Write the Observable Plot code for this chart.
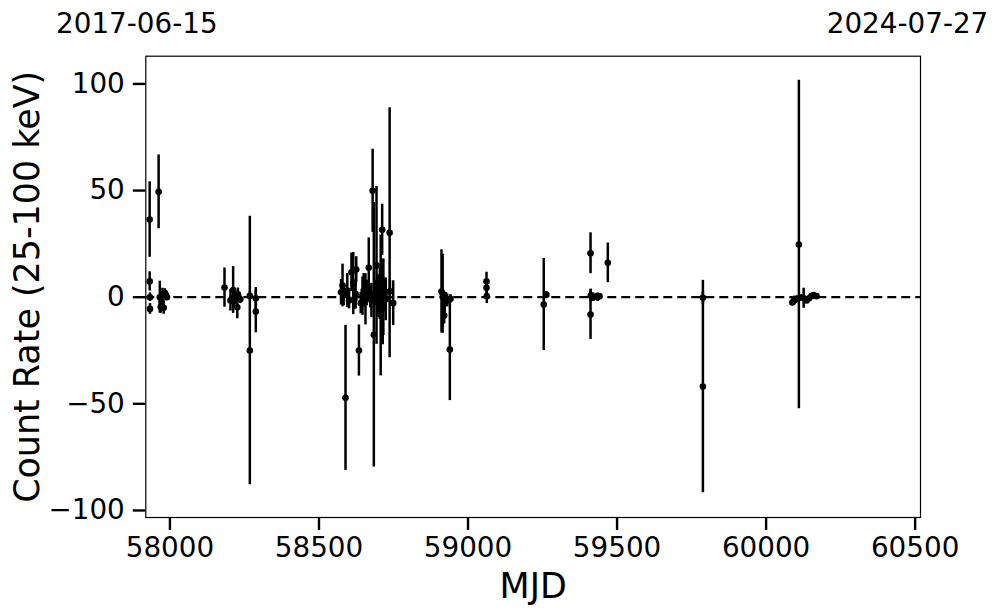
<!DOCTYPE html>
<html>
<head>
<meta charset="utf-8">
<script src="https://cdn.jsdelivr.net/npm/d3@7"></script>
<script src="https://cdn.jsdelivr.net/npm/@observablehq/plot@0.6"></script>
<style>
  html, body { margin: 0; padding: 0; background: #fff; }
  #chart { width: 997px; height: 613px; }
</style>
</head>
<body>
<div id="chart"></div>
<script>
// Observation epochs (MJD), count rates (25-100 keV) and 1-sigma errors
const mjd = [
  57932, 57932, 57933, 57933, 57962, 57966, 57969, 57972, 57975, 57979, 57983, 57986, 57990,
  58183, 58203, 58212, 58213, 58217, 58226, 58228, 58236, 58268, 58268, 58288, 58288,
  58574, 58579, 58583, 58589, 58595, 58601, 58609, 58615, 58619, 58623, 58625, 58634, 58640, 58646,
  58650, 58656, 58660, 58667, 58672, 58676, 58680, 58684, 58688, 58693, 58699, 58704, 58707, 58712,
  58714, 58716, 58720, 58724, 58737, 58738, 58749,
  58911, 58915, 58917, 58920, 58922, 58926, 58930, 58939, 58941,
  59062, 59062, 59063,
  59254, 59263,
  59411, 59411, 59412, 59420, 59431, 59435, 59441, 59469,
  59788, 59788,
  60088, 60094, 60100, 60108, 60110, 60119, 60126, 60136, 60144, 60152, 60159, 60169
];
const rate = [
  36.4, 7.4, 0.0, -5.5, 49.4, 0.0, -4.5, -2.0, 1.2, -5.0, 2.0, 1.0, 0.0,
  4.5, -1.5, 3.4, -2.0, 0.5, -4.7, 1.3, -1.0, -25.0, 0.6, -0.5, -6.7,
  2.3, 5.5, 1.0, -47.2, 3.1, -1.5, 11.7, 6.4, -0.8, 1.5, 13.0, -25.0, -2.8, 0.5,
  3.1, -1.0, 2.0, 13.8, 0.0, -1.5, 49.9, -17.6, 2.0, 14.9, 0.5, 1.6, -3.9, 31.6,
  -2.3, 0.0, 1.0, -1.0, 30.2, 2.8, -2.8,
  2.7, 1.6, 0.0, -8.6, -3.0, -0.8, -1.5, -24.5, -0.8,
  7.4, 4.4, 0.5,
  -3.4, 1.1,
  20.6, -8.1, 0.8, 0.0, 0.3, 0.0, 0.5, 16.1,
  -41.9, -0.3,
  -2.5, -1.5, -1.0, -0.5, 24.7, 0.0, -0.5, -1.5, -0.5, 0.5, 1.0, 0.5
];
const err = [
  17.7, 4.5, 2.0, 2.5, 17.3, 7.5, 3.0, 3.0, 3.0, 3.0, 2.0, 2.0, 1.5,
  9.2, 5.0, 11.0, 3.0, 3.0, 5.4, 3.0, 2.0, 63.0, 2.0, 5.0, 10.0,
  6.0, 10.0, 5.0, 34.0, 8.0, 4.0, 9.0, 14.6, 5.0, 7.0, 6.0, 12.0, 5.0, 9.0,
  8.0, 12.0, 6.0, 14.0, 5.0, 8.0, 19.5, 62.0, 6.0, 37.0, 10.0, 12.0, 33.0, 12.0,
  20.0, 18.0, 8.0, 10.0, 58.6, 5.0, 10.5,
  19.5, 18.5, 3.0, 4.0, 5.0, 3.0, 3.0, 24.0, 2.0,
  4.3, 3.0, 3.5,
  21.6, 1.5,
  9.6, 11.7, 3.0, 2.0, 1.5, 2.0, 1.0, 9.3,
  49.8, 3.0,
  1.5, 2.0, 1.5, 1.0, 77.0, 1.0, 4.7, 1.0, 1.0, 1.0, 1.0, 1.0
];

const xTicks = [58000, 58500, 59000, 59500, 60000, 60500];
const yTicks = [-100, -50, 0, 50, 100];
const xDomain = [57919, 60518];   // 2017-06-15 .. 2024-07-27
const yDomain = [-103.3, 113.0];
const dateLabels = ["2017-06-15", "2024-07-27"];
const dateMjd = [57919, 60518];

const data = mjd.map((m, i) => ({mjd: m, rate: rate[i], lo: rate[i] - err[i], hi: rate[i] + err[i]}));
const tops = dateLabels.map((t, i) => ({mjd: dateMjd[i], label: t}));

const font = "DejaVu Sans, Liberation Sans, sans-serif";

const chart = Plot.plot({
  width: 997,
  height: 613,
  marginLeft: 145.3,
  marginRight: 77,
  marginTop: 55.7,
  marginBottom: 96,
  style: {fontFamily: font, background: "#fff", color: "#000", overflow: "visible"},
  x: {domain: xDomain, label: null},
  y: {domain: yDomain, label: null},
  marks: [
    Plot.ruleY([0], {stroke: "#000", strokeWidth: 2.3, strokeDasharray: "9,5"}),
    Plot.ruleX(data, {x: "mjd", y1: "lo", y2: "hi", stroke: "#000", strokeWidth: 2.5}),
    Plot.dot(data, {x: "mjd", y: "rate", r: 3.3, fill: "#000", stroke: "none"}),
    Plot.frame({stroke: "#000", strokeWidth: 1.2}),
    Plot.axisX({ticks: xTicks, tickFormat: "d", tickSize: 13, tickPadding: 7, fontSize: 27.8, strokeWidth: 2.4, label: null}),
    Plot.axisY({ticks: yTicks, tickFormat: (d) => d3.format("d")(d).replace("-", "\u2212"), tickSize: 12.5, tickPadding: 8.5, fontSize: 27.8, strokeWidth: 2.4, label: null}),
    Plot.text(["Count Rate (25-100 keV)"], {frameAnchor: "left", rotate: -90, dx: -107, lineAnchor: "bottom", textAnchor: "middle", fontSize: 34.9, fill: "#000"}),
    Plot.text(["MJD"], {frameAnchor: "bottom", dy: 80, lineAnchor: "bottom", textAnchor: "middle", fontSize: 34.9, fill: "#000"}),
    Plot.text(tops.slice(0, 1), {x: "mjd", text: "label", frameAnchor: "top", dx: -9, dy: -23.4, lineAnchor: "bottom", textAnchor: "middle", fontSize: 27.8, fill: "#000"}),
    Plot.text(tops.slice(1), {x: "mjd", text: "label", frameAnchor: "top", dx: -13, dy: -23.4, lineAnchor: "bottom", textAnchor: "middle", fontSize: 27.8, fill: "#000"})
  ]
});
document.getElementById("chart").appendChild(chart);
</script>
</body>
</html>
